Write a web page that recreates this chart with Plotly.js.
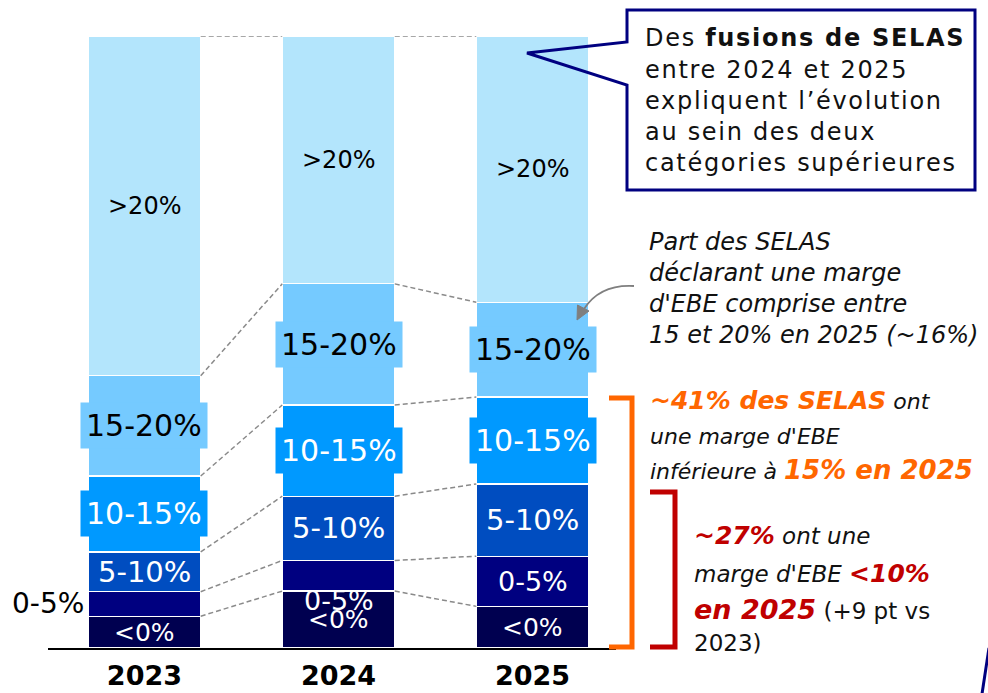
<!DOCTYPE html>
<html>
<head>
<meta charset="utf-8">
<script src="https://cdn.plot.ly/plotly-3.0.1.min.js"></script>
<style>
  html, body { margin: 0; padding: 0; background: #ffffff; }
  #chart { width: 988px; height: 693px; }
</style>
</head>
<body>
<div id="chart"></div>
<script>
// Répartition des SELAS par tranche de marge d'EBE (% des SELAS)
const years = ['2023', '2024', '2025'];
const bands = ['<0%', '0-5%', '5-10%', '10-15%', '15-20%', '>20%'];
const shareBelow0 = [5.2, 9.3, 6.8];
const share0to5 = [4.0, 5.0, 8.2];
const share5to10 = [6.5, 10.5, 11.8];
const share10to15 = [12.4, 14.9, 14.2];
const share15to20 = [16.4, 19.8, 15.5];
const shareAbove20 = [55.5, 40.5, 43.5];

const series = [shareBelow0, share0to5, share5to10, share10to15, share15to20, shareAbove20];
const bandColors = ['#000050', '#000080', '#004DC0', '#0099FF', '#75CAFF', '#B3E5FC'];
const labelColors = ['#ffffff', '#ffffff', '#ffffff', '#ffffff', '#000000', '#000000'];
const labelSizes = [25, 27, 29, 30, 30, 24];
const labelBoxed = [false, false, false, true, true, false];

const BAR_W = 0.58;
const FONT_LBL = 'DejaVu Sans, sans-serif';
const FONT_TXT = 'DejaVu Sans, sans-serif';
const ORANGE = '#FF6600';
const RED = '#C00000';
const NAVY = '#000080';

// plot area geometry (px) used to place the side notes
const M = { l: 48, r: 372, t: 36, b: 45 };
const W = 988, H = 693;
const PW = W - M.l - M.r, PH = H - M.t - M.b;
const px = v => (v - M.l) / PW;
const py = v => (H - M.b - v) / PH;

const xs = years.map((_, i) => i);

// cumulative tops of each band, per year
const cumTop = series.map((_, k) => xs.map(i => {
  let s = 0;
  for (let j = 0; j <= k; j++) s += series[j][i];
  return s;
}));

const traces = series.map((vals, k) => ({
  type: 'bar',
  x: xs,
  y: vals,
  width: xs.map(() => BAR_W),
  name: bands[k],
  marker: { color: bandColors[k], line: { color: '#ffffff', width: 1.2 } },
  hoverinfo: 'skip'
}));

// dashed connectors between neighbouring bars at each band boundary
cumTop.forEach(tops => {
  for (let i = 0; i < xs.length - 1; i++) {
    traces.push({
      type: 'scatter',
      mode: 'lines',
      x: [xs[i] + BAR_W / 2, xs[i + 1] - BAR_W / 2],
      y: [tops[i], tops[i + 1]],
      line: { color: '#8a8a8a', width: 1.5, dash: '5px,3px' },
      hoverinfo: 'skip',
      cliponaxis: false
    });
  }
});

const annotations = [];

// band labels centred in each segment
series.forEach((vals, k) => {
  xs.forEach(i => {
    const mid = cumTop[k][i] - vals[i] / 2;
    const outside = (k === 1 && i === 0);
    const a = {
      x: outside ? xs[i] - BAR_W / 2 : xs[i],
      y: mid,
      xref: 'x', yref: 'y',
      text: bands[k],
      showarrow: false,
      xanchor: outside ? 'right' : 'center',
      yanchor: 'middle',
      font: { family: FONT_LBL, size: outside ? 28 : labelSizes[k], color: outside ? '#000000' : labelColors[k] }
    };
    if (outside) a.xshift = -2;
    if (k === 1 && i === 1) a.yshift = -25;
    if (labelBoxed[k]) {
      a.bgcolor = bandColors[k];
      a.borderpad = 5;
    }
    annotations.push(a);
  });
});

function note(xPx, yPx, text, size) {
  annotations.push({
    x: px(xPx), y: py(yPx), xref: 'paper', yref: 'paper',
    xanchor: 'left', yanchor: 'middle', align: 'left',
    text: text, showarrow: false,
    font: { family: FONT_TXT, size: size || 23, color: '#111111' }
  });
}

// callout text
const wide = s => '<span style="letter-spacing:1.7px">' + s + '</span>';
note(643, 38, wide('Des <b>fusions de SELAS</b>'), 24);
note(643, 70, wide('entre 2024 et 2025'), 24);
note(643, 101, wide('expliquent l’évolution'), 24);
note(643, 132, wide('au sein des deux'), 24);
note(643, 163, wide('catégories supérieures'), 24);

// note on 15-20% in 2025
note(647, 242, '<i>Part des SELAS</i>', 24);
note(647, 273, '<i>déclarant une marge</i>', 24);
note(647, 304, '<i>d\'EBE comprise entre</i>', 24);
note(647, 335, '<i>15 et 20% en 2025 (~16%)</i>', 24);

// < 15% block
note(648, 400, '<span style="color:' + ORANGE + ';font-size:25px"><b><i>~41% des SELAS</i></b></span><i> ont</i>', 22);
note(648, 436, '<i>une marge d\'EBE</i>', 22);
note(648, 470, '<i>inférieure à </i><span style="color:' + ORANGE + ';font-size:26px"><b><i>15% en 2025</i></b></span>', 22);

// < 10% block
note(692, 535, '<span style="color:' + RED + ';font-size:25px"><b><i>~27%</i></b></span><i> ont une</i>');
note(692, 573, '<i>marge d\'EBE </i><span style="color:' + RED + ';font-size:25px"><b><i>&lt;10%</i></b></span>');
note(692, 609, '<span style="color:' + RED + ';font-size:27px"><b><i>en 2025</i></b></span> (+9 pt vs');
note(692, 643, '2023)');

function pathPx(points, close) {
  let d = points.map((p, j) => (j ? 'L' : 'M') + px(p[0]) + ',' + py(p[1])).join(' ');
  return close ? d + ' Z' : d;
}

const shapes = [
  // speech-bubble frame
  {
    type: 'path', xref: 'paper', yref: 'paper',
    path: pathPx([[627, 42], [627, 10], [975, 10], [975, 190], [627, 190], [627, 85], [527, 53]], true),
    line: { color: NAVY, width: 3 }, fillcolor: 'rgba(0,0,0,0)'
  },
  // curved pointer to the 2025 15-20% segment
  {
    type: 'path', xref: 'paper', yref: 'paper',
    path: 'M' + px(634) + ',' + py(286) + ' Q' + px(600) + ',' + py(284) + ' ' + px(584) + ',' + py(309),
    line: { color: '#7f7f7f', width: 1.8 }
  },
  {
    type: 'path', xref: 'paper', yref: 'paper',
    path: pathPx([[577, 320], [589, 311], [577.5, 305]], true),
    line: { color: '#7f7f7f', width: 1 }, fillcolor: '#7f7f7f'
  },
  // brackets
  {
    type: 'path', xref: 'paper', yref: 'paper',
    path: pathPx([[609, 398], [632, 398], [632, 647], [609, 647]]),
    line: { color: ORANGE, width: 5 }
  },
  {
    type: 'path', xref: 'paper', yref: 'paper',
    path: pathPx([[650, 492], [675, 492], [675, 647], [650, 647]]),
    line: { color: RED, width: 5 }
  },
  // stroke entering at the bottom-right corner
  {
    type: 'line', xref: 'paper', yref: 'paper',
    x0: px(989), y0: py(648), x1: px(982), y1: py(694),
    line: { color: NAVY, width: 3 }
  }
];

const layout = {
  width: W, height: H,
  margin: M,
  paper_bgcolor: '#ffffff',
  plot_bgcolor: '#ffffff',
  barmode: 'stack',
  showlegend: false,
  xaxis: {
    range: [-0.497, 2.43],
    tickvals: xs,
    ticktext: years.map(y => '<b>' + y + '</b>'),
    tickfont: { family: 'DejaVu Sans, sans-serif', size: 27, color: '#000000' },
    ticklabelstandoff: 3,
    showline: true, linecolor: '#000000', linewidth: 1.5,
    showgrid: false, zeroline: false, ticks: '',
    fixedrange: true
  },
  yaxis: {
    range: [0, 100],
    visible: false,
    showgrid: false, zeroline: false,
    fixedrange: true
  },
  annotations: annotations,
  shapes: shapes
};

Plotly.newPlot('chart', traces, layout, { displayModeBar: false, staticPlot: true });
</script>
</body>
</html>
